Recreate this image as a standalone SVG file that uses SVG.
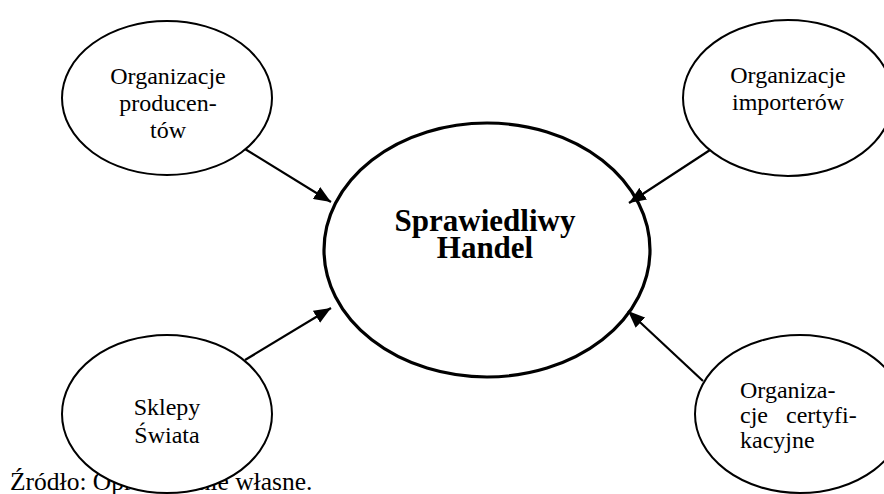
<svg xmlns="http://www.w3.org/2000/svg" width="884" height="494" viewBox="0 0 884 494">
<style>
.t{font-family:"Liberation Serif","Times New Roman",serif;font-size:24px;fill:#000}
.b{font-family:"Liberation Serif","Times New Roman",serif;font-size:31px;font-weight:bold;fill:#000}
.n{fill:#fff;stroke:#000;stroke-width:2}
.c{fill:#fff;stroke:#000;stroke-width:3.2}
.e{stroke:#000;stroke-width:2.2;fill:none;marker-end:url(#ah)}
</style>
<defs>
<marker id="ah" markerUnits="userSpaceOnUse" markerWidth="18" markerHeight="14" refX="17" refY="7" orient="auto">
<path d="M0,0 L17,7 L0,14 z" fill="#000"/>
</marker>
</defs>
<rect width="884" height="494" fill="#fff"/>
<text class="t" x="10" y="490" style="font-size:25.5px">Źródło: Opracowanie własne.</text>
<g id="node-producenci">
<ellipse class="n" cx="167" cy="98" rx="105" ry="77"/>
<text class="t" text-anchor="middle" x="168" y="84">Organizacje</text>
<text class="t" text-anchor="middle" x="168" y="111">producen-</text>
<text class="t" text-anchor="middle" x="168" y="138">tów</text>
</g>
<g id="node-importerzy">
<ellipse class="n" cx="788" cy="98" rx="105" ry="78"/>
<text class="t" text-anchor="middle" x="788" y="83">Organizacje</text>
<text class="t" text-anchor="middle" x="788" y="110">importerów</text>
</g>
<g id="node-sklepy">
<ellipse class="n" cx="167" cy="414" rx="105" ry="79"/>
<text class="t" text-anchor="middle" x="167" y="415">Sklepy</text>
<text class="t" text-anchor="middle" x="167" y="443">Świata</text>
</g>
<g id="node-certyfikacja">
<ellipse class="n" cx="800" cy="414" rx="105" ry="79"/>
<text class="t" x="740" y="398">Organiza-</text>
<text class="t" x="740" y="423">cje<tspan x="786">certyfi-</tspan></text>
<text class="t" x="740" y="448">kacyjne</text>
</g>
<g id="node-center">
<ellipse class="c" cx="487" cy="250" rx="163" ry="127"/>
<text class="b" text-anchor="middle" x="485" y="231">Sprawiedliwy</text>
<text class="b" text-anchor="middle" x="485" y="258">Handel</text>
</g>
<g id="connectors">
<line class="e" x1="245" y1="149" x2="331" y2="202"/>
<line class="e" x1="245" y1="360" x2="331" y2="308"/>
<line class="e" x1="710" y1="150" x2="629" y2="203"/>
<line class="e" x1="703" y1="381" x2="628" y2="311"/>
</g>
</svg>
